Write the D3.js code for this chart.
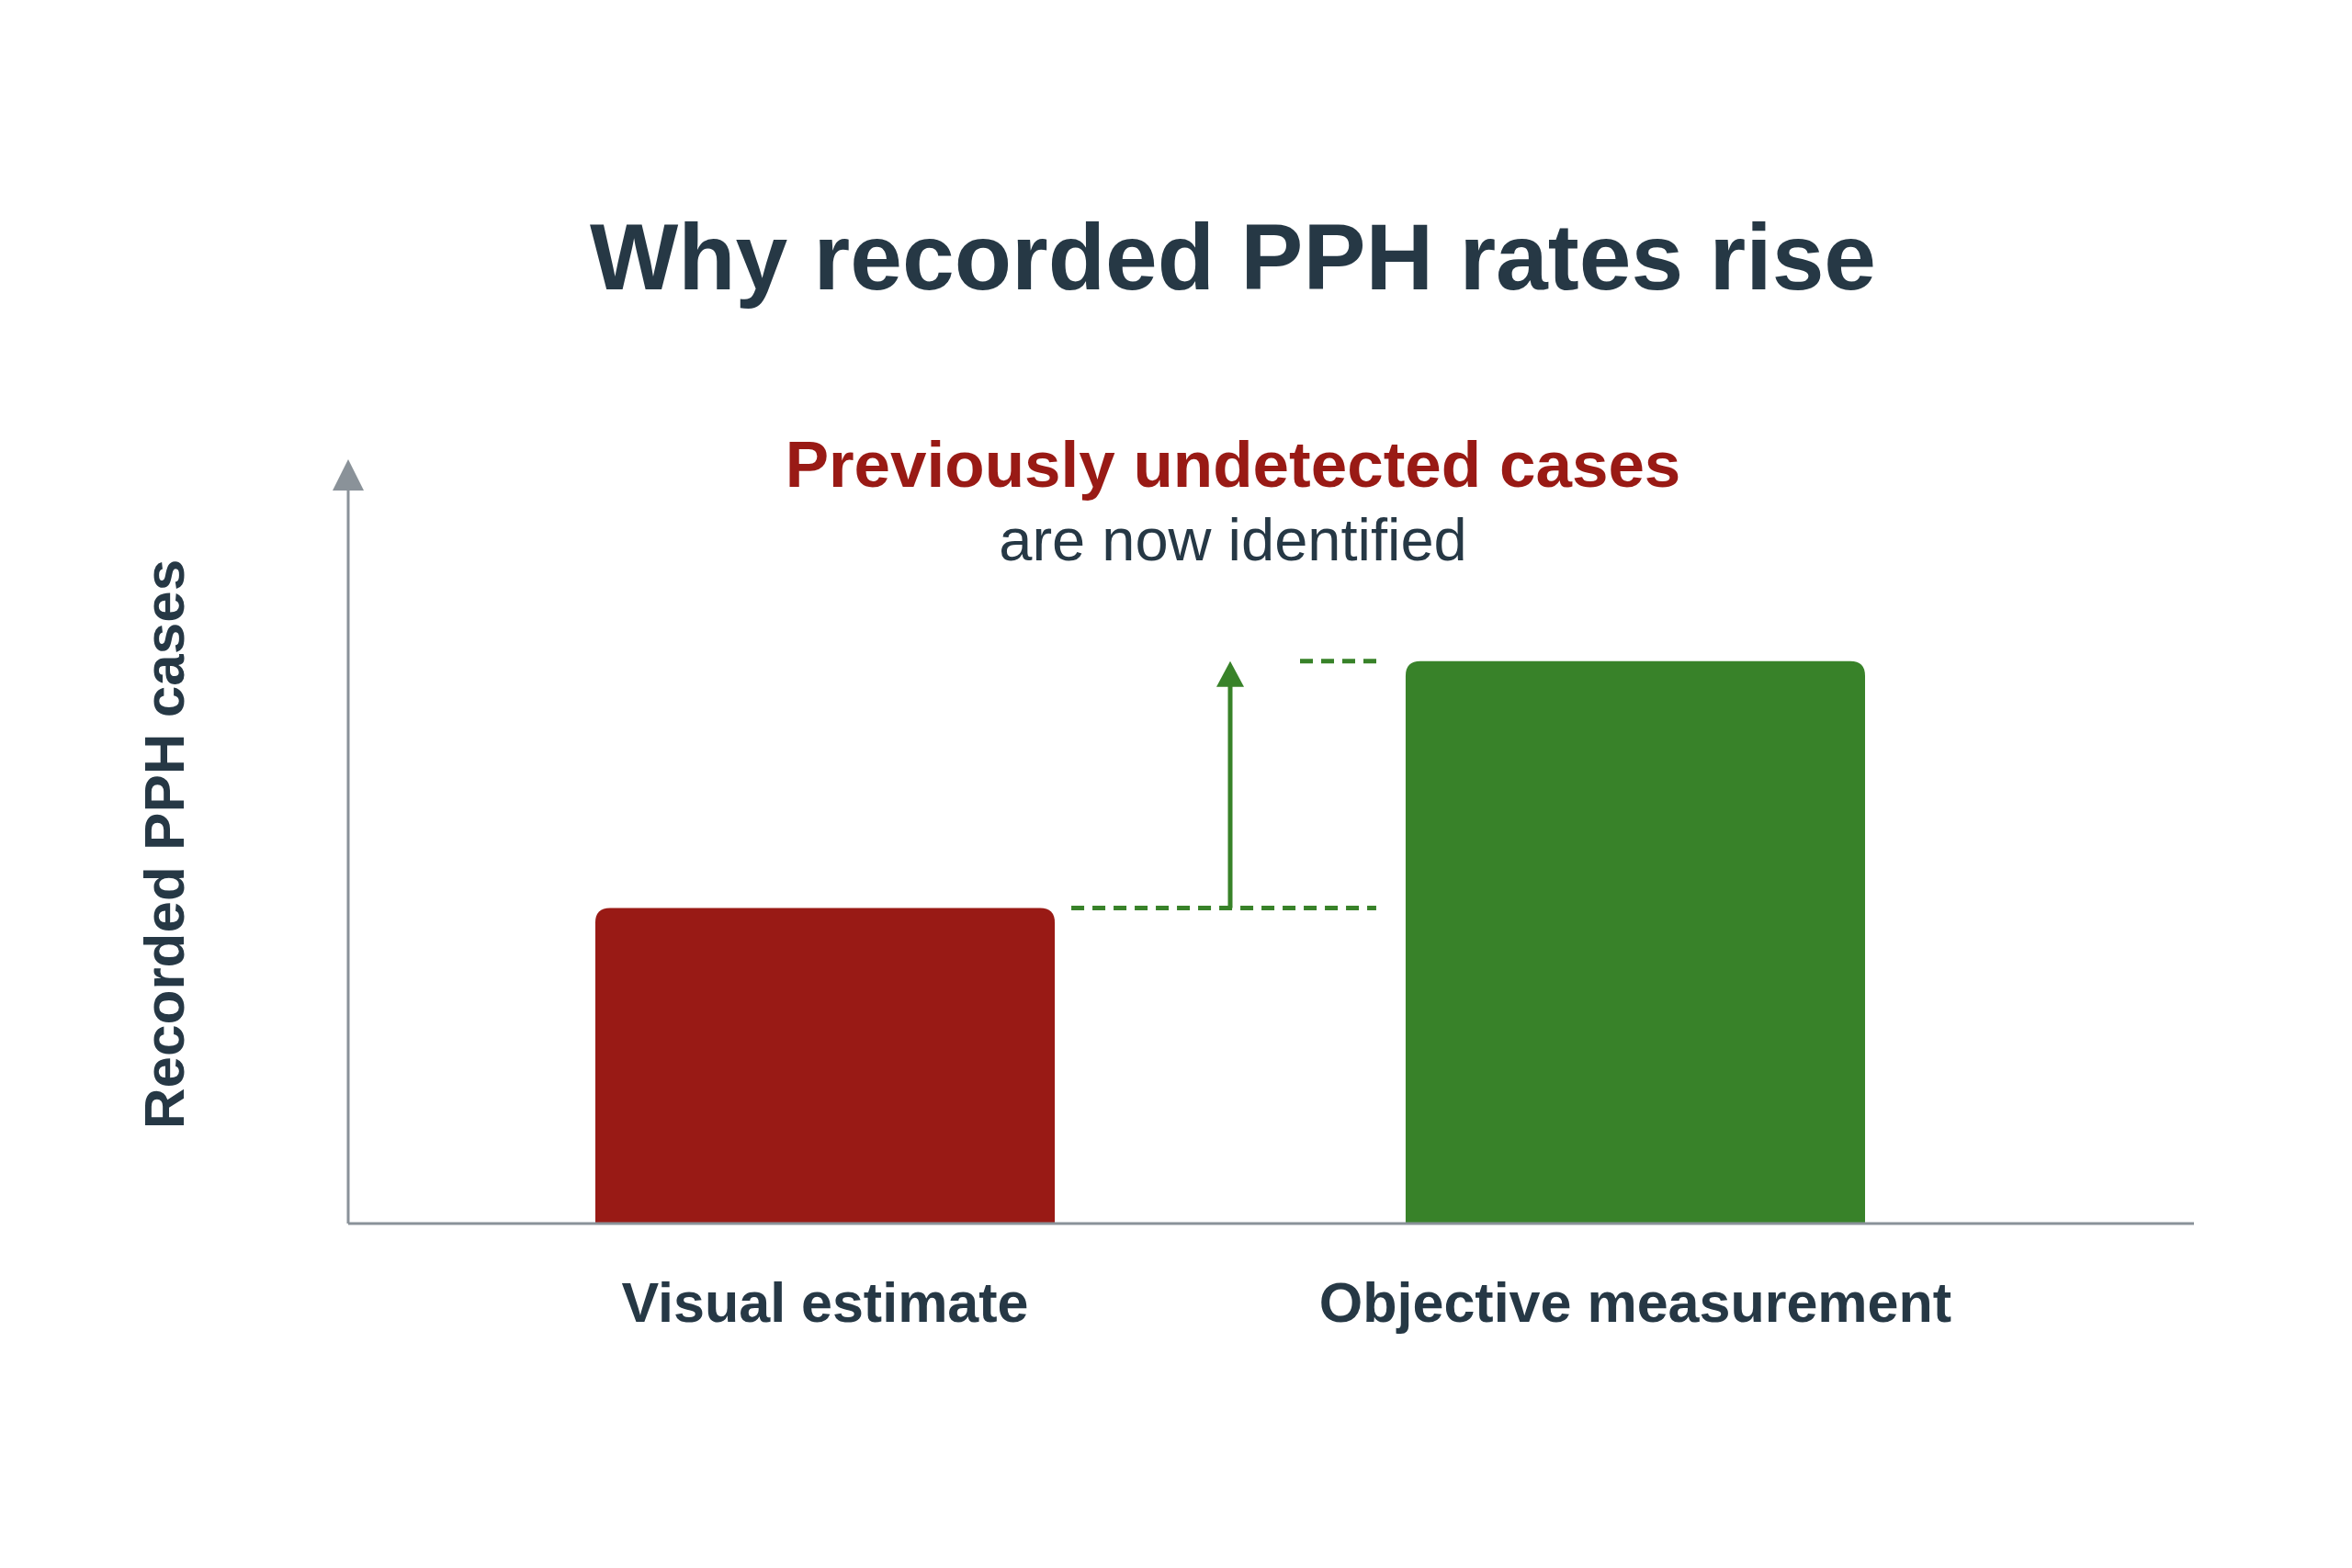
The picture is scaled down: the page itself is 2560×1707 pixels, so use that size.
<!DOCTYPE html>
<html><head><meta charset="utf-8">
<script src="https://cdn.jsdelivr.net/npm/d3@7"></script>
<style>body{margin:0;background:#fff}svg{display:block}</style>
</head><body>
<svg id="chart"></svg>
<script>
const categories = ['Visual estimate', 'Objective measurement'];
const values = [41.3, 73.6];
const barColors = ['#991a15', '#388229'];
const title = 'Why recorded PPH rates rise';
const yLabel = 'Recorded PPH cases';
const noteStrong = 'Previously undetected cases';
const noteRest = 'are now identified';

const W = 2560, H = 1707;
const dark = '#263845', axisGrey = '#8a9299';
const font = 'Liberation Sans, Arial, sans-serif';
const svg = d3.select('#chart').attr('width', W).attr('height', H);

const x0 = 379, x1 = 2388, yBase = 1332, yTop = 500;
const x = d3.scaleBand().domain(categories).range([648, 2030]).paddingInner(0.433).paddingOuter(0);
const y = d3.scaleLinear().domain([0, 100]).range([yBase, yTop]);

svg.append('text').attr('x', 1342).attr('y', 315).attr('text-anchor', 'middle')
  .attr('font-family', font).attr('font-weight', 700).attr('font-size', 102).attr('fill', dark).text(title);

// bars: rounded top only
const r = 16;
svg.append('g').selectAll('path').data(values).join('path')
  .attr('fill', (d, i) => barColors[i])
  .attr('d', (d, i) => {
    const bx = x(categories[i]), bw = x.bandwidth(), top = y(d);
    return `M${bx},${yBase}V${top + r}Q${bx},${top} ${bx + r},${top}H${bx + bw - r}Q${bx + bw},${top} ${bx + bw},${top + r}V${yBase}Z`;
  });

// axes
svg.append('line').attr('x1', x0).attr('x2', x1).attr('y1', yBase).attr('y2', yBase).attr('stroke', axisGrey).attr('stroke-width', 3);
svg.append('line').attr('x1', x0).attr('x2', x0).attr('y1', yBase).attr('y2', yTop + 30).attr('stroke', axisGrey).attr('stroke-width', 3);
svg.append('path').attr('d', `M${x0},${yTop}L${x0 - 17},${yTop + 34}L${x0 + 17},${yTop + 34}Z`).attr('fill', axisGrey);

// category labels
svg.append('g').selectAll('text').data(categories).join('text')
  .attr('x', d => x(d) + x.bandwidth() / 2).attr('y', 1439).attr('text-anchor', 'middle')
  .attr('font-family', font).attr('font-weight', 700).attr('font-size', 61).attr('fill', dark).text(d => d);

svg.append('text').attr('transform', `translate(200,${(yBase + yTop) / 2 + 3}) rotate(-90)`).attr('text-anchor', 'middle')
  .attr('font-family', font).attr('font-weight', 700).attr('font-size', 62).attr('fill', dark).text(yLabel);

// dashed guides + arrow
const g = '#388229';
const b1r = x(categories[0]) + x.bandwidth(), b2l = x(categories[1]);
const midX = (b1r + b2l) / 2;
svg.append('line').attr('x1', b1r + 18).attr('x2', b2l - 32).attr('y1', y(values[0])).attr('y2', y(values[0]))
  .attr('stroke', g).attr('stroke-width', 5).attr('stroke-dasharray', '14,9');
svg.append('line').attr('x1', midX + 76).attr('x2', b2l - 28).attr('y1', y(values[1])).attr('y2', y(values[1]))
  .attr('stroke', g).attr('stroke-width', 5).attr('stroke-dasharray', '14,9');
svg.append('line').attr('x1', midX).attr('x2', midX).attr('y1', y(values[0])).attr('y2', y(values[1]) + 25)
  .attr('stroke', g).attr('stroke-width', 5);
svg.append('path').attr('d', `M${midX},${y(values[1])}L${midX - 15},${y(values[1]) + 28}L${midX + 15},${y(values[1]) + 28}Z`).attr('fill', g);

// annotation
svg.append('text').attr('x', 1342).attr('y', 530).attr('text-anchor', 'middle')
  .attr('font-family', font).attr('font-weight', 700).attr('font-size', 71).attr('fill', '#991a15').text(noteStrong);
svg.append('text').attr('x', 1342).attr('y', 610).attr('text-anchor', 'middle')
  .attr('font-family', font).attr('font-size', 65).attr('fill', dark).text(noteRest);
</script>
</body></html>
